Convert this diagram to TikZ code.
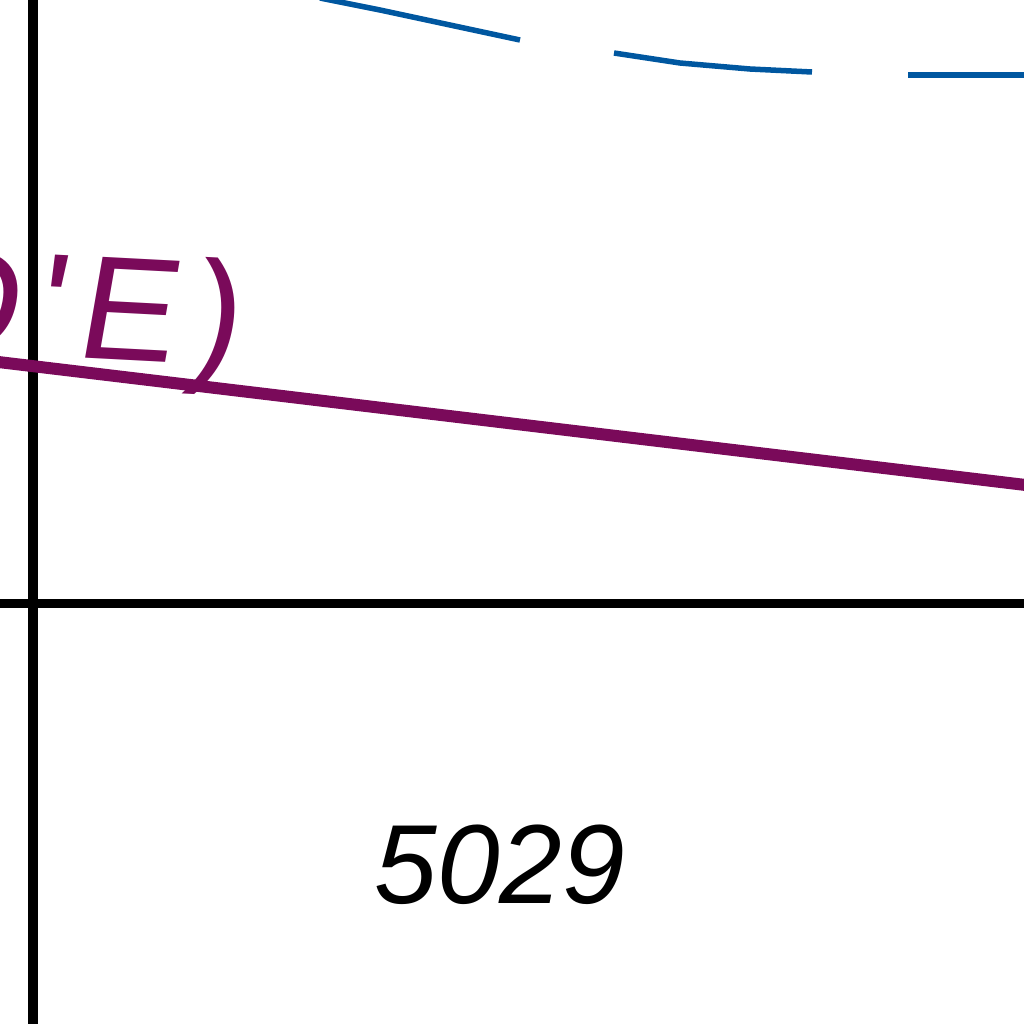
\documentclass[tikz,border=0pt]{standalone}
\usepackage{fontspec}
\setmainfont{Liberation Sans}
\newfontfamily\roadfont[FakeSlant=0.12,LetterSpace=10]{Liberation Sans}
\usepackage{xcolor}
\definecolor{roadpurple}{HTML}{7A0A5A}
\definecolor{brookblue}{HTML}{0057A0}
\usetikzlibrary{positioning}

\begin{document}
\begin{tikzpicture}[x=0.01cm,y=-0.01cm]
\useasboundingbox (0,0) rectangle (1024,1024);
\begin{scope}
\clip (0,0) rectangle (1024,1024);
% parcel lines
\draw[line width=0.09cm] (33,-10)--(33,1034);
\draw[line width=0.09cm] (-10,603)--(1034,603);
% road
\draw[roadpurple,line width=0.12cm] (-10,361)--(1034,486);
\node[roadpurple,font=\fontsize{42}{42}\selectfont\roadfont,anchor=base east,rotate=-3,inner sep=0pt] (roadname) at (236,366) {(D'E)};
% brook, dashed
\draw[brookblue,line width=0.055cm] (320,-2)--(380,10)--(450,25)--(520,40);
\draw[brookblue,line width=0.055cm] (614,53)--(680,63)--(750,69)--(812,72);
\draw[brookblue,line width=0.055cm] (908,75)--(1034,75);
\end{scope}
\node[font=\fontsize{32}{32}\selectfont\itshape,inner sep=0pt] (lotno) at (500,865) {5029};
\end{tikzpicture}
\end{document}
